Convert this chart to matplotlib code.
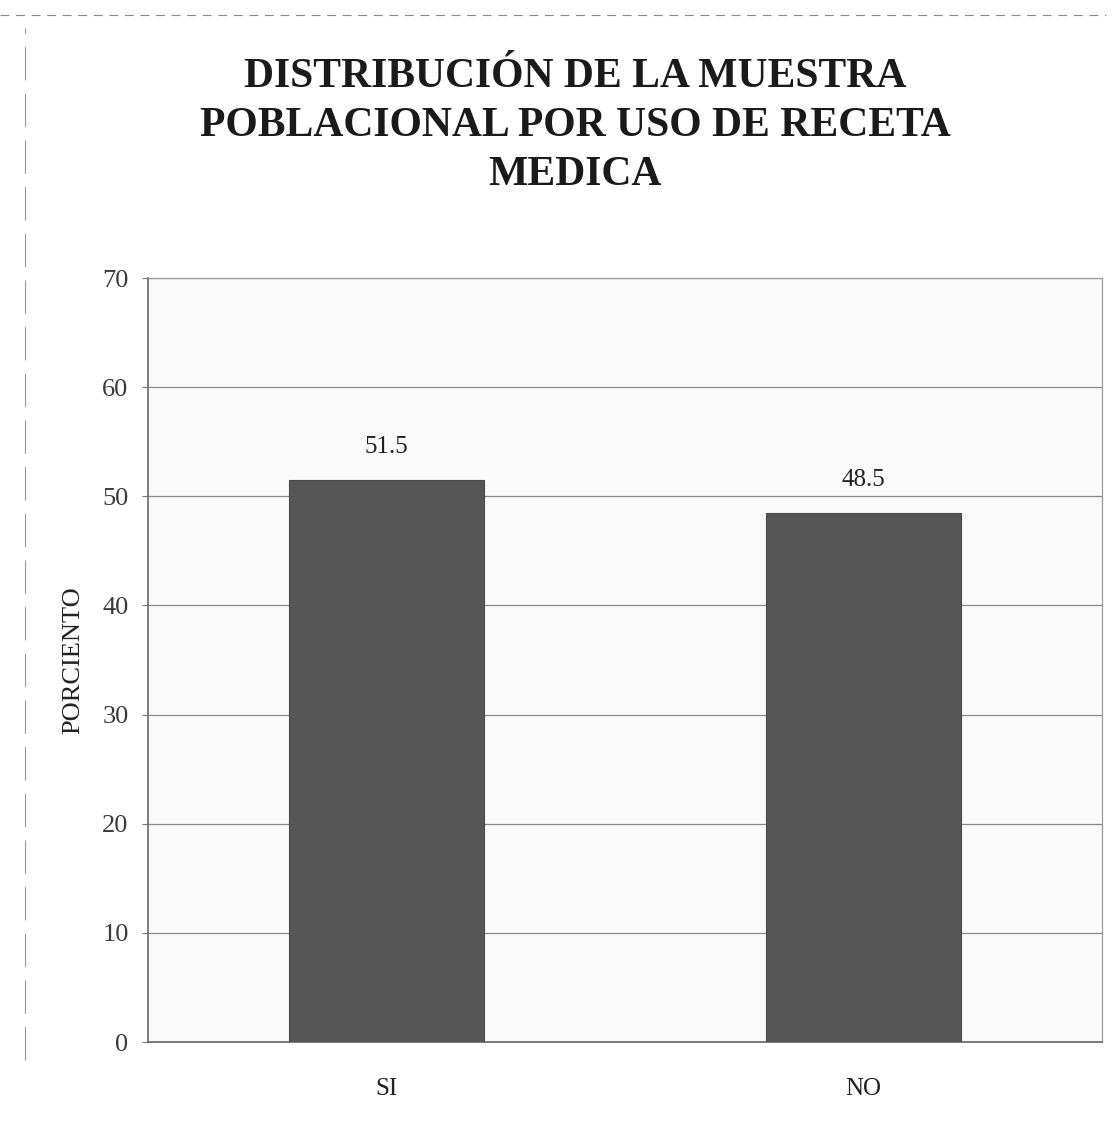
import matplotlib.pyplot as plt
import numpy as np

# Uso de receta medica en la muestra poblacional (%)
categorias = ['SI', 'NO']
porcentajes = [51.5, 48.5]
y_ticks = [0, 10, 20, 30, 40, 50, 60, 70]

plt.rcParams['font.family'] = ['Liberation Serif', 'DejaVu Serif']

fig = plt.figure(figsize=(11.17, 11.28), dpi=100)
ax = fig.add_axes([0.1325, 0.0762, 0.854, 0.6773])
ax.set_facecolor('#fafafa')

x = np.arange(len(categorias))
bars = ax.bar(x, porcentajes, width=0.41, color='#565656', edgecolor='#4a4a4a',
              linewidth=0.8, zorder=3)

for rect, val in zip(bars, porcentajes):
    ax.text(rect.get_x() + rect.get_width() / 2, val + 2.0, f'{val:.1f}',
            ha='center', va='bottom', fontsize=18, color='#222222')

ax.set_xlim(-0.5, 1.5)
ax.set_ylim(0, 70)
ax.set_yticks(y_ticks)
ax.set_yticklabels([str(t) for t in y_ticks], fontsize=19, color='#3a3a3a')
ax.set_xticks(x)
ax.set_xticklabels(categorias, fontsize=18, color='#222222')
ax.tick_params(axis='y', length=4, color='#777777', pad=10)
ax.tick_params(axis='x', length=0, pad=26)

ax.yaxis.grid(True, color='#8a8a8a', linewidth=0.9, zorder=0)
ax.set_axisbelow(True)
for side in ['left', 'bottom']:
    ax.spines[side].set_color('#666666')
    ax.spines[side].set_linewidth(1.2)
for side in ['top', 'right']:
    ax.spines[side].set_color('#9a9a9a')
    ax.spines[side].set_linewidth(0.9)

ax.set_ylabel('PORCIENTO', fontsize=19, color='#222222', labelpad=13)

fig.text(0.515, 0.949, 'DISTRIBUCIÓN DE LA MUESTRA\nPOBLACIONAL POR USO DE RECETA\nMEDICA',
         ha='center', va='top', fontsize=30, fontweight='bold', color='#1a1a1a',
         linespacing=1.38)

# marco exterior del grafico
fig.add_artist(plt.Line2D([0.0, 0.99], [0.987, 0.987], color='#888888',
                          linewidth=0.8, linestyle=(0, (8, 6))))
fig.add_artist(plt.Line2D([0.022, 0.022], [0.06, 0.975], color='#999999',
                          linewidth=0.8, linestyle=(0, (30, 12))))

fig.savefig('out.png', dpi=100)
